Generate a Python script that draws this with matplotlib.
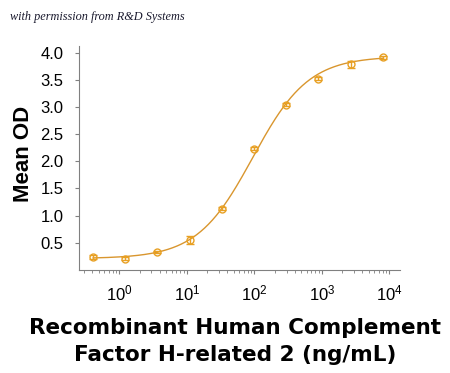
import numpy as np
import matplotlib
matplotlib.use("Agg")
import matplotlib.pyplot as plt
from matplotlib.ticker import LogLocator, FixedLocator, NullFormatter

# Data
conc = [0.41, 1.22, 3.66, 11.0, 32.9, 98.8, 296, 889, 2667, 8000]
mean_od = [0.24, 0.21, 0.335, 0.55, 1.13, 2.23, 3.04, 3.52, 3.78, 3.91]
err = [0.04, 0.02, 0.02, 0.08, 0.03, 0.03, 0.03, 0.03, 0.07, 0.03]
# 4-parameter logistic fit parameters
fit_bottom, fit_top, fit_ec50, fit_hill = 0.21, 3.93, 95.0, 1.05
y_ticks = [0.5, 1.0, 1.5, 2.0, 2.5, 3.0, 3.5, 4.0]
x_ticks = [1, 10, 100, 1000, 10000]

color_pt = "#E8A023"
color_line = "#D9962E"

fig = plt.figure(figsize=(4.5, 3.73), dpi=100)
ax = fig.add_axes([79/450, 1-270/373, (400-79)/450, (270-46)/373])

xs = np.logspace(np.log10(0.41), np.log10(8000), 300)
ys = fit_bottom + (fit_top - fit_bottom) / (1 + (fit_ec50 / xs) ** fit_hill)
ax.plot(xs, ys, color=color_line, lw=1.0, zorder=2)
ax.errorbar(conc, mean_od, yerr=err, fmt='o', ms=5, mfc='none', mec=color_pt,
            mew=1.0, ecolor=color_pt, elinewidth=1.0, capsize=3, capthick=1.0, zorder=3)

ax.set_xscale('log')
ax.set_xlim(0.253, 14400)
ax.set_ylim(0, 4.12)
ax.set_yticks(y_ticks)
ax.set_yticklabels([f"{v:.1f}" for v in y_ticks])
ax.xaxis.set_major_locator(FixedLocator(x_ticks))
ax.set_xticklabels([r"$\mathregular{10^{%d}}$" % int(np.log10(v)) for v in x_ticks])
ax.xaxis.set_minor_locator(LogLocator(base=10, subs=np.arange(2, 10), numticks=20))
ax.xaxis.set_minor_formatter(NullFormatter())

for s in ['top', 'right']:
    ax.spines[s].set_visible(False)
for s in ['left', 'bottom']:
    ax.spines[s].set_color('#808080')
    ax.spines[s].set_linewidth(0.8)
ax.tick_params(axis='both', which='major', color='#808080', length=3, width=0.8,
               labelsize=12, pad=8)
ax.tick_params(axis='x', which='minor', color='#808080', length=2, width=0.6)
ax.tick_params(axis='x', which='major', pad=7)
for lbl in ax.get_xticklabels() + ax.get_yticklabels():
    lbl.set_family('Liberation Sans')

fig.text(24/450, 1-154/373, "Mean OD", rotation=90, ha='center', va='center',
         fontsize=16, fontweight='bold', family='Liberation Sans')
fig.text(235/450, 1-328/373, "Recombinant Human Complement",
         ha='center', va='center', fontsize=15.5, fontweight='bold', family='DejaVu Sans')
fig.text(235/450, 1-355/373, "Factor H-related 2 (ng/mL)",
         ha='center', va='center', fontsize=15.5, fontweight='bold', family='DejaVu Sans')
fig.text(10/450, 1-17/373, "with permission from R&D Systems", ha='left', va='center',
         fontsize=8.8, style='italic', family='Liberation Serif', color='#1a1a2e')

fig.savefig("out.png", dpi=100)
